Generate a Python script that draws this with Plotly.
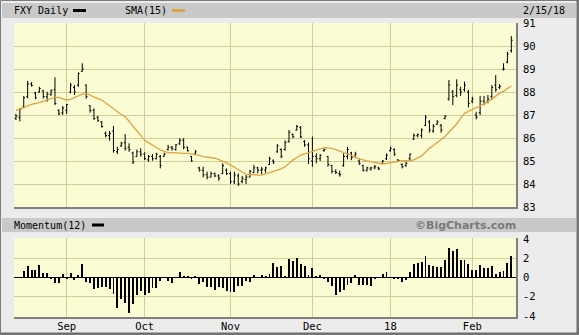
import pandas as pd
import plotly.graph_objects as go

# ---------------- data ----------------
holidays = ['2017-09-04', '2017-11-23', '2017-12-25', '2018-01-01', '2018-01-15']
dates = [d.strftime('%Y-%m-%d') for d in pd.bdate_range('2017-08-15', '2018-02-15')
         if d.strftime('%Y-%m-%d') not in holidays]

month_ticks = ['2017-09-01', '2017-10-02', '2017-11-01', '2017-12-01', '2018-01-02', '2018-02-01']
month_labels = ['Sep', 'Oct', 'Nov', 'Dec', '18', 'Feb']

price_ticks = [83, 84, 85, 86, 87, 88, 89, 90, 91]
mom_ticks = [-4, -2, 0, 2, 4]
mom_tick_labels = ['-4', '-2', '0', '2', '4']

high = [87.05, 87.3, 87.83, 88.48, 88.43, 88.01, 88.23, 88.09, 88.01, 88.12,
        88.64, 87.25, 87.39, 87.48, 88.4, 88.3, 88.86, 89.25, 88.33, 87.43,
        87.29, 86.96, 86.74, 86.28, 86.3, 86.52, 85.62, 85.84, 86.17, 85.77,
        85.4, 85.5, 85.55, 85.38, 85.26, 85.3, 85.36, 85.26, 85.36, 85.7,
        85.65, 85.74, 85.99, 85.99, 85.62, 85.22, 85.48, 84.75, 84.75, 84.54,
        84.54, 84.5, 84.43, 84.9, 84.68, 84.54, 84.54, 84.46, 84.35, 84.39,
        84.61, 84.83, 84.75, 84.75, 84.75, 85.19, 85.07, 85.74, 85.55, 85.9,
        86.35, 86.2, 86.57, 86.52, 85.91, 85.8, 86.06, 85.33, 85.3, 85.55,
        85.22, 84.83, 84.64, 84.58, 85.33, 85.62, 85.4, 85.4, 85.07, 84.83,
        84.75, 84.75, 84.83, 84.75, 85.04, 85.33, 85.62, 85.55, 85.07, 84.9,
        84.97, 85.33, 86.2, 86.2, 86.42, 87.0, 86.78, 86.61, 86.78, 86.61,
        87.0, 88.52, 88.09, 88.55, 88.23, 88.45, 88.09, 87.8, 87.14, 87.83,
        87.83, 87.87, 88.3, 88.74, 88.35, 89.25, 89.75, 90.43]
low = [86.78, 86.72, 87.29, 87.72, 88.23, 87.68, 87.97, 87.71, 87.58, 87.83,
       87.43, 87.0, 87.0, 87.04, 87.94, 87.87, 88.23, 88.88, 87.7, 87.1,
       86.78, 86.71, 86.45, 86.03, 85.88, 85.36, 85.3, 85.62, 85.45, 85.4,
       84.87, 85.19, 85.19, 85.04, 84.97, 85.01, 85.07, 84.68, 85.19, 85.45,
       85.45, 85.45, 85.7, 85.51, 85.4, 84.97, 85.26, 84.54, 84.29, 84.2,
       84.29, 84.3, 84.14, 84.43, 84.39, 84.0, 84.0, 83.91, 84.03, 84.0,
       84.29, 84.46, 84.46, 84.43, 84.49, 84.83, 84.87, 85.36, 85.12, 85.45,
       85.8, 85.99, 86.32, 85.99, 85.62, 84.87, 84.75, 84.9, 85.0, 85.4,
       84.75, 84.46, 84.43, 84.32, 84.75, 85.07, 85.04, 85.19, 84.83, 84.54,
       84.54, 84.58, 84.64, 84.61, 84.87, 85.04, 85.4, 85.22, 85.0, 84.68,
       84.75, 85.04, 85.91, 86.03, 85.99, 86.52, 86.23, 86.23, 86.57, 86.23,
       86.81, 87.62, 87.43, 87.77, 87.83, 88.01, 87.33, 87.51, 86.81, 87.0,
       87.43, 87.51, 87.65, 88.01, 88.12, 88.93, 89.25, 89.71]
open_ = [86.85, 86.9, 87.35, 87.8, 88.35, 87.95, 88.0, 88.05, 87.8, 87.9,
         88.1, 87.2, 87.1, 87.2, 88.0, 88.2, 88.3, 88.9, 88.3, 87.4,
         87.2, 86.9, 86.7, 86.2, 86.1, 86.3, 85.4, 85.65, 85.8, 85.6,
         85.35, 85.2, 85.4, 85.3, 85.05, 85.2, 85.1, 85.2, 85.2, 85.5,
         85.6, 85.5, 85.75, 85.9, 85.6, 85.2, 85.3, 84.7, 84.6, 84.4,
         84.3, 84.45, 84.35, 84.45, 84.6, 84.45, 84.1, 84.35, 84.1, 84.2,
         84.3, 84.5, 84.7, 84.6, 84.6, 84.85, 85.0, 85.4, 85.5, 85.5,
         85.85, 86.15, 86.35, 86.45, 85.85, 85.7, 85.0, 85.2, 85.1, 85.45,
         85.2, 84.8, 84.55, 84.45, 84.8, 85.2, 85.35, 85.2, 85.0, 84.8,
         84.6, 84.65, 84.7, 84.7, 84.9, 85.1, 85.45, 85.5, 85.05, 84.85,
         84.8, 85.1, 85.95, 86.1, 86.1, 86.55, 86.7, 86.3, 86.6, 86.55,
         86.85, 87.7, 88.0, 87.85, 88.1, 88.1, 88.0, 87.6, 87.0, 87.1,
         87.6, 87.6, 87.8, 88.3, 88.2, 89.0, 89.3, 89.8]
close = [86.95, 87.25, 87.75, 88.35, 88.28, 87.75, 88.15, 87.8, 87.9, 88.05,
         87.5, 87.05, 87.3, 87.45, 88.3, 88.0, 88.8, 89.0, 87.8, 87.2,
         86.85, 86.75, 86.5, 86.1, 86.2, 85.45, 85.5, 85.75, 85.55, 85.5,
         84.95, 85.4, 85.3, 85.1, 85.2, 85.1, 85.3, 84.8, 85.3, 85.6,
         85.55, 85.7, 85.9, 85.6, 85.45, 85.0, 85.4, 84.6, 84.4, 84.3,
         84.45, 84.35, 84.25, 84.8, 84.45, 84.1, 84.4, 84.0, 84.25, 84.3,
         84.55, 84.7, 84.6, 84.65, 84.7, 85.1, 84.95, 85.65, 85.2, 85.8,
         86.25, 86.05, 86.5, 86.05, 85.7, 85.1, 85.2, 85.1, 85.25, 85.5,
         84.85, 84.55, 84.5, 84.4, 85.2, 85.5, 85.15, 85.3, 84.9, 84.6,
         84.7, 84.7, 84.75, 84.65, 85.0, 85.25, 85.55, 85.3, 85.02, 84.75,
         84.9, 85.3, 86.1, 86.15, 86.35, 86.9, 86.35, 86.5, 86.7, 86.35,
         86.95, 88.3, 87.8, 88.3, 88.0, 88.3, 87.5, 87.7, 86.9, 87.6,
         87.5, 87.7, 88.2, 88.1, 88.25, 89.0, 89.65, 90.25]
sma15 = [87.19, 87.26, 87.33, 87.40, 87.46, 87.50, 87.54, 87.60, 87.65, 87.71,
         87.77, 87.77, 87.71, 87.65, 87.68, 87.75, 87.83, 87.91, 87.94, 87.86,
         87.77, 87.71, 87.65, 87.52, 87.39, 87.25, 87.12, 87.02, 86.93, 86.72,
         86.49, 86.30, 86.08, 85.90, 85.80, 85.70, 85.58, 85.48, 85.42, 85.36,
         85.36, 85.34, 85.33, 85.33, 85.33, 85.31, 85.29, 85.24, 85.19, 85.17,
         85.16, 85.12, 85.06, 85.00, 84.92, 84.83, 84.72, 84.61, 84.52, 84.43,
         84.41, 84.39, 84.39, 84.39, 84.44, 84.49, 84.53, 84.58, 84.66, 84.75,
         84.90, 85.04, 85.15, 85.26, 85.31, 85.36, 85.40, 85.45, 85.50, 85.58,
         85.57, 85.55, 85.49, 85.43, 85.38, 85.33, 85.25, 85.16, 85.10, 85.04,
         85.00, 84.97, 84.93, 84.90, 84.87, 84.90, 84.93, 84.97, 85.01, 85.01,
         85.01, 85.01, 85.05, 85.12, 85.22, 85.38, 85.55, 85.67, 85.80, 85.93,
         86.06, 86.25, 86.43, 86.61, 86.85, 87.07, 87.16, 87.25, 87.32, 87.39,
         87.48, 87.58, 87.70, 87.83, 87.94, 88.04, 88.15, 88.26]
momentum12 = [0.0, 0.0, 0.67, 1.19, 0.77, 0.77, 1.26, 0.49, 0.42, -0.18,
              -0.6, -0.6, 0.32, -0.18, 0.42, -0.25, 0.21, 1.37, -0.49, -0.6,
              -1.23, -1.09, -1.02, -1.02, -1.23, -1.72, -3.12, -2.25, -2.67, -3.65,
              -2.74, -1.79, -1.44, -1.86, -1.61, -1.09, -1.09, -0.39, 0.05, -0.39,
              -0.6, 0.05, 0.53, 0.18, 0.11, -0.18, 0.11, -0.67, -0.46, -0.95,
              -0.95, -1.26, -0.98, -1.09, -1.44, -1.51, -1.51, -0.91, -0.91, -0.39,
              -0.46, 0.25, 0.05, 0.21, 0.11, 0.32, 1.47, 1.09, 1.19, 0.1,
              1.96, 1.72, 2.0, 1.37, 1.19, 0.25, 0.95, 0.11, 0.25, -0.18,
              -0.46, -0.91, -1.86, -1.51, -1.26, -0.74, -0.6, 0.25, -0.74, -0.74,
              -0.74, -0.88, -0.18, 0.03, 0.32, 0.53, -0.05, -0.18, -0.1, -0.46,
              -0.25, 0.53, 1.37, 1.47, 1.61, 2.21, 1.26, 1.19, 1.09, 1.09,
              1.79, 3.09, 2.77, 2.95, 1.79, 1.79, 1.37, 0.74, 0.74, 1.26,
              0.95, 1.02, 1.16, 0.39, 0.56, 0.67, 1.51, 2.21]

# ---------------- styling ----------------
W, H = 579, 335
FONT = "DejaVu Sans Mono"
PLOT_BG = "#FCFCD4"
GRID = "#CFCF98"
OUTER = "#ECECEC"
BAR = "#C9C9C9"
SMA_COLOR = "#DCA444"

def px(x):
    return x / W

def py(y):
    return 1 - y / H

main_left, main_right = 14, 516
main_top, main_bot = 23, 207
mom_top, mom_bot = 238, 317

fig = go.Figure()
fig.add_trace(go.Ohlc(x=dates, open=open_, high=high, low=low, close=close,
                      increasing_line_color="black", decreasing_line_color="black",
                      line_width=1, tickwidth=0.35, xaxis="x", yaxis="y",
                      hoverinfo="skip", showlegend=False))
fig.add_trace(go.Scatter(x=dates, y=sma15, mode="lines",
                         line=dict(color=SMA_COLOR, width=1.3),
                         xaxis="x", yaxis="y", hoverinfo="skip", showlegend=False))
fig.add_trace(go.Bar(x=dates, y=momentum12, marker_color="black", marker_line_width=0,
                     width=0.24, xaxis="x2", yaxis="y2", hoverinfo="skip", showlegend=False))

xcommon = dict(type="category", categoryorder="array", categoryarray=dates,
               range=[-0.5, 128.2], tickmode="array", tickvals=month_ticks,
               showgrid=True, gridcolor=GRID, gridwidth=1, zeroline=False,
               showline=False, ticks="", fixedrange=True, automargin=False,
               rangeslider=dict(visible=False),
               domain=[px(main_left), px(main_right)])

shapes = []
# outer border
shapes.append(dict(type="rect", xref="paper", yref="paper", x0=px(0.5), x1=px(578.5),
                   y0=py(334.5), y1=py(0.5), line=dict(color="#7c7c7c", width=1), layer="above"))
shapes.append(dict(type="line", xref="paper", yref="paper", x0=px(577.5), x1=px(577.5),
                   y0=py(334), y1=py(0), line=dict(color="#6e6e6e", width=2), layer="above"))
shapes.append(dict(type="line", xref="paper", yref="paper", x0=px(0), x1=px(579),
                   y0=py(333.5), y1=py(333.5), line=dict(color="#6e6e6e", width=2), layer="above"))
# header bars
for (y0, y1) in [(3, 18), (218, 232)]:
    shapes.append(dict(type="rect", xref="paper", yref="paper", x0=px(2), x1=px(576),
                       y0=py(y1), y1=py(y0), fillcolor=BAR, line=dict(width=0), layer="below"))
# plot shadows
for (t, b) in [(main_top, main_bot), (mom_top, mom_bot)]:
    shapes.append(dict(type="line", xref="paper", yref="paper", x0=px(main_left), x1=px(main_right + 1.5),
                       y0=py(b + 1), y1=py(b + 1), line=dict(color="#808080", width=2), layer="above"))
    shapes.append(dict(type="line", xref="paper", yref="paper", x0=px(main_right + 1), x1=px(main_right + 1),
                       y0=py(b + 2), y1=py(t), line=dict(color="#808080", width=2), layer="above"))
# legend swatches
shapes.append(dict(type="rect", xref="paper", yref="paper", x0=px(73), x1=px(86),
                   y0=py(12), y1=py(9), fillcolor="black", line=dict(width=0)))
shapes.append(dict(type="rect", xref="paper", yref="paper", x0=px(172), x1=px(185),
                   y0=py(12), y1=py(9), fillcolor=SMA_COLOR, line=dict(width=0)))
shapes.append(dict(type="rect", xref="paper", yref="paper", x0=px(92), x1=px(104),
                   y0=py(226.5), y1=py(223.5), fillcolor="black", line=dict(width=0)))

def txt(x, y, s, anchor="left", size=10, color="black", weight="normal", family=FONT):
    return dict(x=px(x), y=py(y), xref="paper", yref="paper", text=s, showarrow=False,
                xanchor=anchor, yanchor="middle", xshift=0, yshift=0, borderpad=0,
                font=dict(family=family, size=size, color=color, weight=weight))

annotations = [
    txt(13, 10.5, "FXY Daily"),
    txt(124, 10.5, "SMA(15)"),
    txt(522, 10.5, "2/15/18"),
    txt(13, 225.5, "Momentum(12)"),
    txt(517, 225.5, "©BigCharts.com", anchor="right", size=11, color="#7a7a7a",
        weight="bold", family="DejaVu Sans"),
]

fig.update_layout(
    width=W, height=H, autosize=False,
    margin=dict(l=0, r=0, t=0, b=0, pad=0, autoexpand=False),
    paper_bgcolor=OUTER, plot_bgcolor=PLOT_BG,
    showlegend=False, bargap=0,
    xaxis=dict(xcommon, anchor="y", showticklabels=False),
    yaxis=dict(domain=[py(main_bot), py(main_top)], range=[83, 91], side="right",
               tickmode="array", tickvals=price_ticks, showgrid=True, gridcolor=GRID,
               gridwidth=1, zeroline=False, showline=False, ticks="", automargin=False,
               ticklabelstandoff=6, tickfont=dict(family=FONT, size=10.5, color="black"),
               anchor="x", fixedrange=True),
    xaxis2=dict(xcommon, anchor="y2", showticklabels=True, ticktext=month_labels,
                tickfont=dict(family=FONT, size=10.5, color="black"), ticklabelstandoff=1),
    yaxis2=dict(domain=[py(mom_bot), py(mom_top)], range=[-4.1, 4.1], side="right",
                tickmode="array", tickvals=mom_ticks, ticktext=mom_tick_labels,
                showgrid=True, gridcolor=GRID, gridwidth=1, automargin=False,
                zeroline=True, zerolinecolor="black", zerolinewidth=1,
                showline=False, ticks="", ticklabelstandoff=6,
                tickfont=dict(family=FONT, size=10.5, color="black"),
                anchor="x2", fixedrange=True),
    shapes=shapes, annotations=annotations,
)

fig.write_html("out.html")
